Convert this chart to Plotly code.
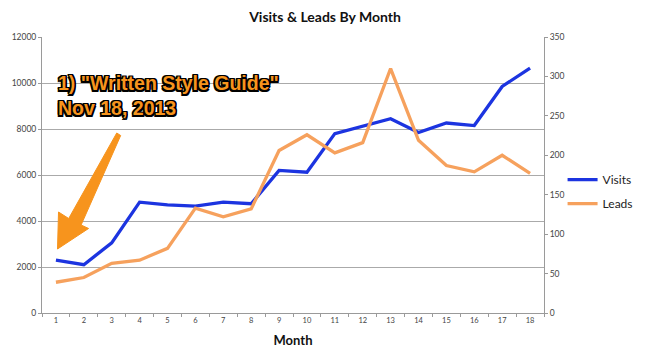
import plotly.graph_objects as go

months = list(range(1, 19))
visits = [2300, 2100, 3050, 4820, 4700, 4650, 4820, 4750, 6200, 6120, 7800, 8120,
          8450, 7850, 8260, 8150, 9850, 10650]
leads = [39, 45, 63, 67, 82, 133, 122, 132, 206, 226, 203, 216, 310, 219, 187, 179, 200, 177]
left_ticks = [0, 2000, 4000, 6000, 8000, 10000, 12000]
right_ticks = [0, 50, 100, 150, 200, 250, 300, 350]

BLUE = "#1c34e0"
ORANGE = "#f6a15d"
ARROW = "#f7941d"
FONT = "Lato, 'Open Sans', sans-serif"

fig = go.Figure()
fig.add_trace(go.Scatter(x=months, y=visits, name="Visits", mode="lines", legendgroup="v",
                         line=dict(color=BLUE, width=3.3), yaxis="y", hoverinfo="skip"))
fig.add_trace(go.Scatter(x=months, y=leads, name="Leads", mode="lines", legendgroup="l",
                         line=dict(color=ORANGE, width=3.3), yaxis="y2", hoverinfo="skip"))

outline = ("-1.5px -1.5px 0 #000, 1.5px -1.5px 0 #000, -1.5px 1.5px 0 #000, "
           "1.5px 1.5px 0 #000, 0 1.5px 0 #000, 0 -1.5px 0 #000, 1.5px 0 0 #000, -1.5px 0 0 #000")

fig.update_layout(
    width=650, height=358,
    margin=dict(l=38, r=95, t=37, b=45),
    paper_bgcolor="white", plot_bgcolor="white",
    hovermode=False,
    font=dict(family=FONT, color="#333333"),
    title=dict(text="<b>Visits & Leads By Month</b>", x=0.5, xanchor="center",
               y=0.952, yanchor="middle", font=dict(size=14, color="#111111", family=FONT)),
    xaxis=dict(range=[0.5, 18.5], tickmode="array", tickvals=months,
               ticktext=[str(m) for m in months], tickfont=dict(size=7.5, color="#444"),
               showgrid=False, showline=True, linecolor="#9a9a9a", linewidth=1,
               ticks="", zeroline=False,
               title=dict(text="<b>Month</b>", font=dict(size=13, color="#111"), standoff=11),
               minor=dict(tickvals=[m + 0.5 for m in range(0, 19)], ticks="outside",
                          ticklen=3, tickcolor="#9a9a9a", showgrid=False)),
    yaxis=dict(range=[0, 12000], tickvals=left_ticks, ticktext=[str(t) for t in left_ticks],
               tickfont=dict(size=8.5, color="#444"),
               showgrid=True, gridcolor="#aaaaaa", gridwidth=1, showline=True,
               linecolor="#9a9a9a", ticks="outside", ticklen=3, tickcolor="#9a9a9a",
               zeroline=False),
    yaxis2=dict(range=[0, 350], tickvals=right_ticks, ticktext=[str(t) for t in right_ticks],
                tickfont=dict(size=8.5, color="#444"),
                overlaying="y", side="right", showgrid=False, showline=True,
                linecolor="#9a9a9a", ticks="outside", ticklen=3, tickcolor="#9a9a9a",
                zeroline=False),
    legend=dict(x=1.037, y=0.44, xanchor="left", yanchor="middle",
                font=dict(size=12, color="#222"), bgcolor="rgba(0,0,0,0)",
                traceorder="grouped", tracegroupgap=5),
    showlegend=True,
)

# tapered callout arrow (decoration, paper coordinates)
fig.add_shape(
    type="path", xref="paper", yref="paper",
    path=("M 0.1489,0.6522 L 0.1567,0.6431 L 0.0779,0.3188 L 0.0928,0.3062 "
          "L 0.0309,0.2319 L 0.0329,0.3659 L 0.0532,0.3424 Z"),
    fillcolor=ARROW, line=dict(color=ARROW, width=1), layer="above",
)
fig.add_annotation(
    x=0.028, y=0.88, xref="paper", yref="paper", xanchor="left", yanchor="top",
    align="left", showarrow=False,
    text="<b>1) \"Written Style Guide\"<br>Nov 18, 2013</b>",
    font=dict(size=19.5, color=ARROW, family="Liberation Sans, Arial, sans-serif",
              shadow=outline),
)

fig.write_html("out.html",
               config={"displayModeBar": False, "staticPlot": True},
               post_script="document.body.style.margin='0';document.body.style.padding='0';")
